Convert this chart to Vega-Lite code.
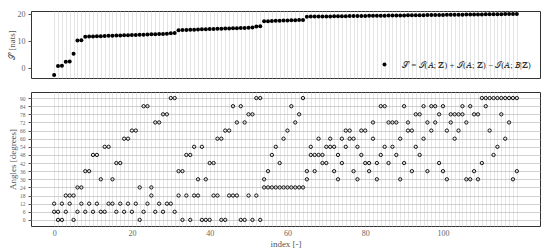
{
  "$schema": "https://vega.github.io/schema/vega-lite/v6.json",
  "background": "white",
  "padding": {"left": 6, "top": 9, "right": 11, "bottom": 4},
  "spacing": 12,
  "resolve": {"legend": {"color": "independent"}, "scale": {"color": "independent"}},
  "config": {
    "font": "Liberation Serif",
    "view": {"stroke": "#333", "strokeWidth": 1},
    "axis": {"labelFont": "Liberation Serif", "titleFont": "Liberation Serif", "labelColor": "#666", "titleColor": "#555", "titleFontWeight": "normal", "domain": false, "tickColor": "#555"}
  },
  "datasets": {
    "S": [
      {"i":0,"S":-2.5,"series":"𝒮 = ℐ(𝐴; 𝐙) + ℐ(𝐴; 𝐙) − ℐ(𝐴; 𝐵|𝐙)"},
      {"i":1,"S":0.8,"series":"𝒮 = ℐ(𝐴; 𝐙) + ℐ(𝐴; 𝐙) − ℐ(𝐴; 𝐵|𝐙)"},
      {"i":2,"S":0.9,"series":"𝒮 = ℐ(𝐴; 𝐙) + ℐ(𝐴; 𝐙) − ℐ(𝐴; 𝐵|𝐙)"},
      {"i":3,"S":2.4,"series":"𝒮 = ℐ(𝐴; 𝐙) + ℐ(𝐴; 𝐙) − ℐ(𝐴; 𝐵|𝐙)"},
      {"i":4,"S":2.5,"series":"𝒮 = ℐ(𝐴; 𝐙) + ℐ(𝐴; 𝐙) − ℐ(𝐴; 𝐵|𝐙)"},
      {"i":5,"S":5.4,"series":"𝒮 = ℐ(𝐴; 𝐙) + ℐ(𝐴; 𝐙) − ℐ(𝐴; 𝐵|𝐙)"},
      {"i":6,"S":10.3,"series":"𝒮 = ℐ(𝐴; 𝐙) + ℐ(𝐴; 𝐙) − ℐ(𝐴; 𝐵|𝐙)"},
      {"i":7,"S":10.4,"series":"𝒮 = ℐ(𝐴; 𝐙) + ℐ(𝐴; 𝐙) − ℐ(𝐴; 𝐵|𝐙)"},
      {"i":8,"S":11.7,"series":"𝒮 = ℐ(𝐴; 𝐙) + ℐ(𝐴; 𝐙) − ℐ(𝐴; 𝐵|𝐙)"},
      {"i":9,"S":11.75,"series":"𝒮 = ℐ(𝐴; 𝐙) + ℐ(𝐴; 𝐙) − ℐ(𝐴; 𝐵|𝐙)"},
      {"i":10,"S":11.8,"series":"𝒮 = ℐ(𝐴; 𝐙) + ℐ(𝐴; 𝐙) − ℐ(𝐴; 𝐵|𝐙)"},
      {"i":11,"S":11.85,"series":"𝒮 = ℐ(𝐴; 𝐙) + ℐ(𝐴; 𝐙) − ℐ(𝐴; 𝐵|𝐙)"},
      {"i":12,"S":11.9,"series":"𝒮 = ℐ(𝐴; 𝐙) + ℐ(𝐴; 𝐙) − ℐ(𝐴; 𝐵|𝐙)"},
      {"i":13,"S":11.95,"series":"𝒮 = ℐ(𝐴; 𝐙) + ℐ(𝐴; 𝐙) − ℐ(𝐴; 𝐵|𝐙)"},
      {"i":14,"S":12.0,"series":"𝒮 = ℐ(𝐴; 𝐙) + ℐ(𝐴; 𝐙) − ℐ(𝐴; 𝐵|𝐙)"},
      {"i":15,"S":12.05,"series":"𝒮 = ℐ(𝐴; 𝐙) + ℐ(𝐴; 𝐙) − ℐ(𝐴; 𝐵|𝐙)"},
      {"i":16,"S":12.1,"series":"𝒮 = ℐ(𝐴; 𝐙) + ℐ(𝐴; 𝐙) − ℐ(𝐴; 𝐵|𝐙)"},
      {"i":17,"S":12.15,"series":"𝒮 = ℐ(𝐴; 𝐙) + ℐ(𝐴; 𝐙) − ℐ(𝐴; 𝐵|𝐙)"},
      {"i":18,"S":12.2,"series":"𝒮 = ℐ(𝐴; 𝐙) + ℐ(𝐴; 𝐙) − ℐ(𝐴; 𝐵|𝐙)"},
      {"i":19,"S":12.25,"series":"𝒮 = ℐ(𝐴; 𝐙) + ℐ(𝐴; 𝐙) − ℐ(𝐴; 𝐵|𝐙)"},
      {"i":20,"S":12.3,"series":"𝒮 = ℐ(𝐴; 𝐙) + ℐ(𝐴; 𝐙) − ℐ(𝐴; 𝐵|𝐙)"},
      {"i":21,"S":12.35,"series":"𝒮 = ℐ(𝐴; 𝐙) + ℐ(𝐴; 𝐙) − ℐ(𝐴; 𝐵|𝐙)"},
      {"i":22,"S":12.4,"series":"𝒮 = ℐ(𝐴; 𝐙) + ℐ(𝐴; 𝐙) − ℐ(𝐴; 𝐵|𝐙)"},
      {"i":23,"S":12.45,"series":"𝒮 = ℐ(𝐴; 𝐙) + ℐ(𝐴; 𝐙) − ℐ(𝐴; 𝐵|𝐙)"},
      {"i":24,"S":12.5,"series":"𝒮 = ℐ(𝐴; 𝐙) + ℐ(𝐴; 𝐙) − ℐ(𝐴; 𝐵|𝐙)"},
      {"i":25,"S":12.55,"series":"𝒮 = ℐ(𝐴; 𝐙) + ℐ(𝐴; 𝐙) − ℐ(𝐴; 𝐵|𝐙)"},
      {"i":26,"S":12.6,"series":"𝒮 = ℐ(𝐴; 𝐙) + ℐ(𝐴; 𝐙) − ℐ(𝐴; 𝐵|𝐙)"},
      {"i":27,"S":12.65,"series":"𝒮 = ℐ(𝐴; 𝐙) + ℐ(𝐴; 𝐙) − ℐ(𝐴; 𝐵|𝐙)"},
      {"i":28,"S":12.7,"series":"𝒮 = ℐ(𝐴; 𝐙) + ℐ(𝐴; 𝐙) − ℐ(𝐴; 𝐵|𝐙)"},
      {"i":29,"S":12.75,"series":"𝒮 = ℐ(𝐴; 𝐙) + ℐ(𝐴; 𝐙) − ℐ(𝐴; 𝐵|𝐙)"},
      {"i":30,"S":13.0,"series":"𝒮 = ℐ(𝐴; 𝐙) + ℐ(𝐴; 𝐙) − ℐ(𝐴; 𝐵|𝐙)"},
      {"i":31,"S":13.1,"series":"𝒮 = ℐ(𝐴; 𝐙) + ℐ(𝐴; 𝐙) − ℐ(𝐴; 𝐵|𝐙)"},
      {"i":32,"S":14.1,"series":"𝒮 = ℐ(𝐴; 𝐙) + ℐ(𝐴; 𝐙) − ℐ(𝐴; 𝐵|𝐙)"},
      {"i":33,"S":14.15,"series":"𝒮 = ℐ(𝐴; 𝐙) + ℐ(𝐴; 𝐙) − ℐ(𝐴; 𝐵|𝐙)"},
      {"i":34,"S":14.2,"series":"𝒮 = ℐ(𝐴; 𝐙) + ℐ(𝐴; 𝐙) − ℐ(𝐴; 𝐵|𝐙)"},
      {"i":35,"S":14.25,"series":"𝒮 = ℐ(𝐴; 𝐙) + ℐ(𝐴; 𝐙) − ℐ(𝐴; 𝐵|𝐙)"},
      {"i":36,"S":14.3,"series":"𝒮 = ℐ(𝐴; 𝐙) + ℐ(𝐴; 𝐙) − ℐ(𝐴; 𝐵|𝐙)"},
      {"i":37,"S":14.35,"series":"𝒮 = ℐ(𝐴; 𝐙) + ℐ(𝐴; 𝐙) − ℐ(𝐴; 𝐵|𝐙)"},
      {"i":38,"S":14.4,"series":"𝒮 = ℐ(𝐴; 𝐙) + ℐ(𝐴; 𝐙) − ℐ(𝐴; 𝐵|𝐙)"},
      {"i":39,"S":14.45,"series":"𝒮 = ℐ(𝐴; 𝐙) + ℐ(𝐴; 𝐙) − ℐ(𝐴; 𝐵|𝐙)"},
      {"i":40,"S":14.5,"series":"𝒮 = ℐ(𝐴; 𝐙) + ℐ(𝐴; 𝐙) − ℐ(𝐴; 𝐵|𝐙)"},
      {"i":41,"S":14.55,"series":"𝒮 = ℐ(𝐴; 𝐙) + ℐ(𝐴; 𝐙) − ℐ(𝐴; 𝐵|𝐙)"},
      {"i":42,"S":14.6,"series":"𝒮 = ℐ(𝐴; 𝐙) + ℐ(𝐴; 𝐙) − ℐ(𝐴; 𝐵|𝐙)"},
      {"i":43,"S":14.65,"series":"𝒮 = ℐ(𝐴; 𝐙) + ℐ(𝐴; 𝐙) − ℐ(𝐴; 𝐵|𝐙)"},
      {"i":44,"S":14.7,"series":"𝒮 = ℐ(𝐴; 𝐙) + ℐ(𝐴; 𝐙) − ℐ(𝐴; 𝐵|𝐙)"},
      {"i":45,"S":14.75,"series":"𝒮 = ℐ(𝐴; 𝐙) + ℐ(𝐴; 𝐙) − ℐ(𝐴; 𝐵|𝐙)"},
      {"i":46,"S":14.8,"series":"𝒮 = ℐ(𝐴; 𝐙) + ℐ(𝐴; 𝐙) − ℐ(𝐴; 𝐵|𝐙)"},
      {"i":47,"S":14.85,"series":"𝒮 = ℐ(𝐴; 𝐙) + ℐ(𝐴; 𝐙) − ℐ(𝐴; 𝐵|𝐙)"},
      {"i":48,"S":14.9,"series":"𝒮 = ℐ(𝐴; 𝐙) + ℐ(𝐴; 𝐙) − ℐ(𝐴; 𝐵|𝐙)"},
      {"i":49,"S":14.95,"series":"𝒮 = ℐ(𝐴; 𝐙) + ℐ(𝐴; 𝐙) − ℐ(𝐴; 𝐵|𝐙)"},
      {"i":50,"S":15.0,"series":"𝒮 = ℐ(𝐴; 𝐙) + ℐ(𝐴; 𝐙) − ℐ(𝐴; 𝐵|𝐙)"},
      {"i":51,"S":15.05,"series":"𝒮 = ℐ(𝐴; 𝐙) + ℐ(𝐴; 𝐙) − ℐ(𝐴; 𝐵|𝐙)"},
      {"i":52,"S":15.5,"series":"𝒮 = ℐ(𝐴; 𝐙) + ℐ(𝐴; 𝐙) − ℐ(𝐴; 𝐵|𝐙)"},
      {"i":53,"S":15.6,"series":"𝒮 = ℐ(𝐴; 𝐙) + ℐ(𝐴; 𝐙) − ℐ(𝐴; 𝐵|𝐙)"},
      {"i":54,"S":17.4,"series":"𝒮 = ℐ(𝐴; 𝐙) + ℐ(𝐴; 𝐙) − ℐ(𝐴; 𝐵|𝐙)"},
      {"i":55,"S":17.45,"series":"𝒮 = ℐ(𝐴; 𝐙) + ℐ(𝐴; 𝐙) − ℐ(𝐴; 𝐵|𝐙)"},
      {"i":56,"S":17.5,"series":"𝒮 = ℐ(𝐴; 𝐙) + ℐ(𝐴; 𝐙) − ℐ(𝐴; 𝐵|𝐙)"},
      {"i":57,"S":17.55,"series":"𝒮 = ℐ(𝐴; 𝐙) + ℐ(𝐴; 𝐙) − ℐ(𝐴; 𝐵|𝐙)"},
      {"i":58,"S":17.6,"series":"𝒮 = ℐ(𝐴; 𝐙) + ℐ(𝐴; 𝐙) − ℐ(𝐴; 𝐵|𝐙)"},
      {"i":59,"S":17.65,"series":"𝒮 = ℐ(𝐴; 𝐙) + ℐ(𝐴; 𝐙) − ℐ(𝐴; 𝐵|𝐙)"},
      {"i":60,"S":17.7,"series":"𝒮 = ℐ(𝐴; 𝐙) + ℐ(𝐴; 𝐙) − ℐ(𝐴; 𝐵|𝐙)"},
      {"i":61,"S":17.75,"series":"𝒮 = ℐ(𝐴; 𝐙) + ℐ(𝐴; 𝐙) − ℐ(𝐴; 𝐵|𝐙)"},
      {"i":62,"S":17.8,"series":"𝒮 = ℐ(𝐴; 𝐙) + ℐ(𝐴; 𝐙) − ℐ(𝐴; 𝐵|𝐙)"},
      {"i":63,"S":17.85,"series":"𝒮 = ℐ(𝐴; 𝐙) + ℐ(𝐴; 𝐙) − ℐ(𝐴; 𝐵|𝐙)"},
      {"i":64,"S":17.9,"series":"𝒮 = ℐ(𝐴; 𝐙) + ℐ(𝐴; 𝐙) − ℐ(𝐴; 𝐵|𝐙)"},
      {"i":65,"S":19.10,"series":"𝒮 = ℐ(𝐴; 𝐙) + ℐ(𝐴; 𝐙) − ℐ(𝐴; 𝐵|𝐙)"},
      {"i":66,"S":19.12,"series":"𝒮 = ℐ(𝐴; 𝐙) + ℐ(𝐴; 𝐙) − ℐ(𝐴; 𝐵|𝐙)"},
      {"i":67,"S":19.14,"series":"𝒮 = ℐ(𝐴; 𝐙) + ℐ(𝐴; 𝐙) − ℐ(𝐴; 𝐵|𝐙)"},
      {"i":68,"S":19.16,"series":"𝒮 = ℐ(𝐴; 𝐙) + ℐ(𝐴; 𝐙) − ℐ(𝐴; 𝐵|𝐙)"},
      {"i":69,"S":19.18,"series":"𝒮 = ℐ(𝐴; 𝐙) + ℐ(𝐴; 𝐙) − ℐ(𝐴; 𝐵|𝐙)"},
      {"i":70,"S":19.20,"series":"𝒮 = ℐ(𝐴; 𝐙) + ℐ(𝐴; 𝐙) − ℐ(𝐴; 𝐵|𝐙)"},
      {"i":71,"S":19.21,"series":"𝒮 = ℐ(𝐴; 𝐙) + ℐ(𝐴; 𝐙) − ℐ(𝐴; 𝐵|𝐙)"},
      {"i":72,"S":19.23,"series":"𝒮 = ℐ(𝐴; 𝐙) + ℐ(𝐴; 𝐙) − ℐ(𝐴; 𝐵|𝐙)"},
      {"i":73,"S":19.25,"series":"𝒮 = ℐ(𝐴; 𝐙) + ℐ(𝐴; 𝐙) − ℐ(𝐴; 𝐵|𝐙)"},
      {"i":74,"S":19.27,"series":"𝒮 = ℐ(𝐴; 𝐙) + ℐ(𝐴; 𝐙) − ℐ(𝐴; 𝐵|𝐙)"},
      {"i":75,"S":19.29,"series":"𝒮 = ℐ(𝐴; 𝐙) + ℐ(𝐴; 𝐙) − ℐ(𝐴; 𝐵|𝐙)"},
      {"i":76,"S":19.31,"series":"𝒮 = ℐ(𝐴; 𝐙) + ℐ(𝐴; 𝐙) − ℐ(𝐴; 𝐵|𝐙)"},
      {"i":77,"S":19.33,"series":"𝒮 = ℐ(𝐴; 𝐙) + ℐ(𝐴; 𝐙) − ℐ(𝐴; 𝐵|𝐙)"},
      {"i":78,"S":19.35,"series":"𝒮 = ℐ(𝐴; 𝐙) + ℐ(𝐴; 𝐙) − ℐ(𝐴; 𝐵|𝐙)"},
      {"i":79,"S":19.37,"series":"𝒮 = ℐ(𝐴; 𝐙) + ℐ(𝐴; 𝐙) − ℐ(𝐴; 𝐵|𝐙)"},
      {"i":80,"S":19.38,"series":"𝒮 = ℐ(𝐴; 𝐙) + ℐ(𝐴; 𝐙) − ℐ(𝐴; 𝐵|𝐙)"},
      {"i":81,"S":19.40,"series":"𝒮 = ℐ(𝐴; 𝐙) + ℐ(𝐴; 𝐙) − ℐ(𝐴; 𝐵|𝐙)"},
      {"i":82,"S":19.42,"series":"𝒮 = ℐ(𝐴; 𝐙) + ℐ(𝐴; 𝐙) − ℐ(𝐴; 𝐵|𝐙)"},
      {"i":83,"S":19.44,"series":"𝒮 = ℐ(𝐴; 𝐙) + ℐ(𝐴; 𝐙) − ℐ(𝐴; 𝐵|𝐙)"},
      {"i":84,"S":19.46,"series":"𝒮 = ℐ(𝐴; 𝐙) + ℐ(𝐴; 𝐙) − ℐ(𝐴; 𝐵|𝐙)"},
      {"i":85,"S":19.48,"series":"𝒮 = ℐ(𝐴; 𝐙) + ℐ(𝐴; 𝐙) − ℐ(𝐴; 𝐵|𝐙)"},
      {"i":86,"S":19.50,"series":"𝒮 = ℐ(𝐴; 𝐙) + ℐ(𝐴; 𝐙) − ℐ(𝐴; 𝐵|𝐙)"},
      {"i":87,"S":19.52,"series":"𝒮 = ℐ(𝐴; 𝐙) + ℐ(𝐴; 𝐙) − ℐ(𝐴; 𝐵|𝐙)"},
      {"i":88,"S":19.53,"series":"𝒮 = ℐ(𝐴; 𝐙) + ℐ(𝐴; 𝐙) − ℐ(𝐴; 𝐵|𝐙)"},
      {"i":89,"S":19.55,"series":"𝒮 = ℐ(𝐴; 𝐙) + ℐ(𝐴; 𝐙) − ℐ(𝐴; 𝐵|𝐙)"},
      {"i":90,"S":19.57,"series":"𝒮 = ℐ(𝐴; 𝐙) + ℐ(𝐴; 𝐙) − ℐ(𝐴; 𝐵|𝐙)"},
      {"i":91,"S":19.59,"series":"𝒮 = ℐ(𝐴; 𝐙) + ℐ(𝐴; 𝐙) − ℐ(𝐴; 𝐵|𝐙)"},
      {"i":92,"S":19.61,"series":"𝒮 = ℐ(𝐴; 𝐙) + ℐ(𝐴; 𝐙) − ℐ(𝐴; 𝐵|𝐙)"},
      {"i":93,"S":19.63,"series":"𝒮 = ℐ(𝐴; 𝐙) + ℐ(𝐴; 𝐙) − ℐ(𝐴; 𝐵|𝐙)"},
      {"i":94,"S":19.65,"series":"𝒮 = ℐ(𝐴; 𝐙) + ℐ(𝐴; 𝐙) − ℐ(𝐴; 𝐵|𝐙)"},
      {"i":95,"S":19.67,"series":"𝒮 = ℐ(𝐴; 𝐙) + ℐ(𝐴; 𝐙) − ℐ(𝐴; 𝐵|𝐙)"},
      {"i":96,"S":19.68,"series":"𝒮 = ℐ(𝐴; 𝐙) + ℐ(𝐴; 𝐙) − ℐ(𝐴; 𝐵|𝐙)"},
      {"i":97,"S":19.70,"series":"𝒮 = ℐ(𝐴; 𝐙) + ℐ(𝐴; 𝐙) − ℐ(𝐴; 𝐵|𝐙)"},
      {"i":98,"S":19.72,"series":"𝒮 = ℐ(𝐴; 𝐙) + ℐ(𝐴; 𝐙) − ℐ(𝐴; 𝐵|𝐙)"},
      {"i":99,"S":19.74,"series":"𝒮 = ℐ(𝐴; 𝐙) + ℐ(𝐴; 𝐙) − ℐ(𝐴; 𝐵|𝐙)"},
      {"i":100,"S":19.76,"series":"𝒮 = ℐ(𝐴; 𝐙) + ℐ(𝐴; 𝐙) − ℐ(𝐴; 𝐵|𝐙)"},
      {"i":101,"S":19.78,"series":"𝒮 = ℐ(𝐴; 𝐙) + ℐ(𝐴; 𝐙) − ℐ(𝐴; 𝐵|𝐙)"},
      {"i":102,"S":19.80,"series":"𝒮 = ℐ(𝐴; 𝐙) + ℐ(𝐴; 𝐙) − ℐ(𝐴; 𝐵|𝐙)"},
      {"i":103,"S":19.82,"series":"𝒮 = ℐ(𝐴; 𝐙) + ℐ(𝐴; 𝐙) − ℐ(𝐴; 𝐵|𝐙)"},
      {"i":104,"S":19.83,"series":"𝒮 = ℐ(𝐴; 𝐙) + ℐ(𝐴; 𝐙) − ℐ(𝐴; 𝐵|𝐙)"},
      {"i":105,"S":19.85,"series":"𝒮 = ℐ(𝐴; 𝐙) + ℐ(𝐴; 𝐙) − ℐ(𝐴; 𝐵|𝐙)"},
      {"i":106,"S":19.87,"series":"𝒮 = ℐ(𝐴; 𝐙) + ℐ(𝐴; 𝐙) − ℐ(𝐴; 𝐵|𝐙)"},
      {"i":107,"S":19.89,"series":"𝒮 = ℐ(𝐴; 𝐙) + ℐ(𝐴; 𝐙) − ℐ(𝐴; 𝐵|𝐙)"},
      {"i":108,"S":19.91,"series":"𝒮 = ℐ(𝐴; 𝐙) + ℐ(𝐴; 𝐙) − ℐ(𝐴; 𝐵|𝐙)"},
      {"i":109,"S":19.93,"series":"𝒮 = ℐ(𝐴; 𝐙) + ℐ(𝐴; 𝐙) − ℐ(𝐴; 𝐵|𝐙)"},
      {"i":110,"S":19.95,"series":"𝒮 = ℐ(𝐴; 𝐙) + ℐ(𝐴; 𝐙) − ℐ(𝐴; 𝐵|𝐙)"},
      {"i":111,"S":19.97,"series":"𝒮 = ℐ(𝐴; 𝐙) + ℐ(𝐴; 𝐙) − ℐ(𝐴; 𝐵|𝐙)"},
      {"i":112,"S":19.98,"series":"𝒮 = ℐ(𝐴; 𝐙) + ℐ(𝐴; 𝐙) − ℐ(𝐴; 𝐵|𝐙)"},
      {"i":113,"S":20.00,"series":"𝒮 = ℐ(𝐴; 𝐙) + ℐ(𝐴; 𝐙) − ℐ(𝐴; 𝐵|𝐙)"},
      {"i":114,"S":20.02,"series":"𝒮 = ℐ(𝐴; 𝐙) + ℐ(𝐴; 𝐙) − ℐ(𝐴; 𝐵|𝐙)"},
      {"i":115,"S":20.04,"series":"𝒮 = ℐ(𝐴; 𝐙) + ℐ(𝐴; 𝐙) − ℐ(𝐴; 𝐵|𝐙)"},
      {"i":116,"S":20.06,"series":"𝒮 = ℐ(𝐴; 𝐙) + ℐ(𝐴; 𝐙) − ℐ(𝐴; 𝐵|𝐙)"},
      {"i":117,"S":20.08,"series":"𝒮 = ℐ(𝐴; 𝐙) + ℐ(𝐴; 𝐙) − ℐ(𝐴; 𝐵|𝐙)"},
      {"i":118,"S":20.10,"series":"𝒮 = ℐ(𝐴; 𝐙) + ℐ(𝐴; 𝐙) − ℐ(𝐴; 𝐵|𝐙)"},
      {"i":119,"S":20.12,"series":"𝒮 = ℐ(𝐴; 𝐙) + ℐ(𝐴; 𝐙) − ℐ(𝐴; 𝐵|𝐙)"}
    ],
    "angles": [
      {"i":0,"a":12},{"i":0,"a":6},{"i":1,"a":6},{"i":1,"a":0},{"i":2,"a":12},{"i":2,"a":0},
      {"i":3,"a":18},{"i":3,"a":6},{"i":4,"a":18},{"i":4,"a":12},{"i":5,"a":18},{"i":5,"a":0},
      {"i":6,"a":24},{"i":6,"a":6},{"i":7,"a":24},{"i":7,"a":12},{"i":8,"a":36},{"i":8,"a":6},
      {"i":9,"a":36},{"i":9,"a":12},{"i":10,"a":48},{"i":10,"a":6},{"i":11,"a":48},{"i":11,"a":12},
      {"i":12,"a":30},{"i":12,"a":6},{"i":13,"a":54},{"i":13,"a":6},{"i":14,"a":54},{"i":14,"a":12},
      {"i":15,"a":30},{"i":15,"a":12},{"i":16,"a":42},{"i":16,"a":6},{"i":17,"a":42},{"i":17,"a":12},
      {"i":18,"a":60},{"i":18,"a":6},{"i":19,"a":60},{"i":19,"a":12},{"i":20,"a":66},{"i":20,"a":6},
      {"i":21,"a":66},{"i":21,"a":12},{"i":22,"a":24},{"i":22,"a":0},{"i":23,"a":84},{"i":23,"a":6},
      {"i":24,"a":84},{"i":24,"a":12},{"i":25,"a":24},{"i":25,"a":18},{"i":26,"a":72},{"i":26,"a":6},
      {"i":27,"a":72},{"i":27,"a":12},{"i":28,"a":78},{"i":28,"a":6},{"i":29,"a":78},{"i":29,"a":12},
      {"i":30,"a":90},{"i":30,"a":12},{"i":31,"a":90},{"i":31,"a":6},{"i":32,"a":36},{"i":32,"a":18},
      {"i":33,"a":36},{"i":33,"a":0},{"i":34,"a":48},{"i":34,"a":18},{"i":35,"a":48},{"i":35,"a":0},
      {"i":36,"a":54},{"i":36,"a":18},{"i":37,"a":30},{"i":37,"a":18},{"i":38,"a":54},{"i":38,"a":0},
      {"i":39,"a":30},{"i":39,"a":0},{"i":40,"a":42},{"i":40,"a":0},{"i":41,"a":42},{"i":41,"a":18},
      {"i":42,"a":60},{"i":42,"a":18},{"i":43,"a":60},{"i":43,"a":0},{"i":44,"a":66},{"i":44,"a":0},
      {"i":45,"a":66},{"i":45,"a":18},{"i":46,"a":84},{"i":46,"a":18},{"i":47,"a":72},{"i":47,"a":18},
      {"i":48,"a":84},{"i":48,"a":0},{"i":49,"a":72},{"i":49,"a":0},{"i":50,"a":78},{"i":50,"a":18},
      {"i":51,"a":78},{"i":51,"a":0},{"i":52,"a":90},{"i":52,"a":18},{"i":53,"a":90},{"i":53,"a":0},
      {"i":54,"a":30},{"i":54,"a":24},{"i":55,"a":36},{"i":55,"a":24},{"i":56,"a":48},{"i":56,"a":24},
      {"i":57,"a":54},{"i":57,"a":24},{"i":58,"a":42},{"i":58,"a":24},{"i":59,"a":60},{"i":59,"a":24},
      {"i":60,"a":66},{"i":60,"a":24},{"i":61,"a":84},{"i":61,"a":24},{"i":62,"a":72},{"i":62,"a":24},
      {"i":63,"a":78},{"i":63,"a":24},{"i":64,"a":90},{"i":64,"a":24},{"i":65,"a":36},{"i":65,"a":30},
      {"i":66,"a":54},{"i":66,"a":48},{"i":67,"a":48},{"i":67,"a":36},{"i":68,"a":60},{"i":68,"a":48},
      {"i":69,"a":48},{"i":69,"a":42},{"i":70,"a":54},{"i":70,"a":42},{"i":71,"a":60},{"i":71,"a":54},
      {"i":72,"a":54},{"i":72,"a":36},{"i":73,"a":48},{"i":73,"a":30},{"i":74,"a":60},{"i":74,"a":42},
      {"i":75,"a":66},{"i":75,"a":54},{"i":76,"a":66},{"i":76,"a":60},{"i":77,"a":60},{"i":77,"a":36},
      {"i":78,"a":54},{"i":78,"a":30},{"i":79,"a":66},{"i":79,"a":48},{"i":80,"a":66},{"i":80,"a":42},
      {"i":81,"a":42},{"i":81,"a":36},{"i":82,"a":72},{"i":82,"a":60},{"i":83,"a":42},{"i":83,"a":30},
      {"i":84,"a":84},{"i":84,"a":48},{"i":85,"a":84},{"i":85,"a":54},{"i":86,"a":72},{"i":86,"a":42},
      {"i":87,"a":72},{"i":87,"a":54},{"i":88,"a":72},{"i":88,"a":48},{"i":89,"a":60},{"i":89,"a":30},
      {"i":90,"a":84},{"i":90,"a":42},{"i":91,"a":72},{"i":91,"a":66},{"i":92,"a":66},{"i":92,"a":36},
      {"i":93,"a":78},{"i":93,"a":54},{"i":94,"a":78},{"i":94,"a":48},{"i":95,"a":84},{"i":95,"a":60},
      {"i":96,"a":72},{"i":96,"a":36},{"i":97,"a":84},{"i":97,"a":66},{"i":98,"a":84},{"i":98,"a":72},
      {"i":99,"a":78},{"i":99,"a":42},{"i":100,"a":84},{"i":100,"a":36},{"i":101,"a":66},{"i":101,"a":30},
      {"i":102,"a":78},{"i":102,"a":72},{"i":103,"a":78},{"i":103,"a":60},{"i":104,"a":78},{"i":104,"a":66},
      {"i":105,"a":84},{"i":105,"a":78},{"i":106,"a":72},{"i":106,"a":30},{"i":107,"a":84},{"i":107,"a":30},
      {"i":108,"a":78},{"i":108,"a":36},{"i":109,"a":78},{"i":109,"a":30},{"i":110,"a":90},{"i":110,"a":42},
      {"i":111,"a":90},{"i":111,"a":84},{"i":112,"a":90},{"i":112,"a":66},{"i":113,"a":90},{"i":113,"a":48},
      {"i":114,"a":90},{"i":114,"a":54},{"i":115,"a":90},{"i":115,"a":78},{"i":116,"a":90},{"i":116,"a":60},
      {"i":117,"a":90},{"i":117,"a":72},{"i":118,"a":90},{"i":118,"a":30},{"i":119,"a":90},{"i":119,"a":36}
    ]
  },
  "vconcat": [
    {
      "width": 509,
      "height": 67,
      "data": {"name": "S"},
      "mark": {"type": "point", "filled": true, "size": 16, "opacity": 1, "shape": "circle"},
      "encoding": {
        "x": {
          "field": "i", "type": "quantitative",
          "scale": {"domain": [-5.95, 124.95], "nice": false, "zero": false},
          "axis": {"values": [0,1,2,3,4,5,6,7,8,9,10,11,12,13,14,15,16,17,18,19,20,21,22,23,24,25,26,27,28,29,30,31,32,33,34,35,36,37,38,39,40,41,42,43,44,45,46,47,48,49,50,51,52,53,54,55,56,57,58,59,60,61,62,63,64,65,66,67,68,69,70,71,72,73,74,75,76,77,78,79,80,81,82,83,84,85,86,87,88,89,90,91,92,93,94,95,96,97,98,99,100,101,102,103,104,105,106,107,108,109,110,111,112,113,114,115,116,117,118,119],
                   "labels": false, "ticks": false, "title": null, "grid": true, "gridColor": "#d4d4d4", "gridWidth": 0.6}
        },
        "y": {
          "field": "S", "type": "quantitative",
          "scale": {"domain": [-3.6, 21.2], "nice": false, "zero": false},
          "axis": {"values": [0, 10, 20], "grid": false, "title": "𝒮 [nats]", "titleFontSize": 9, "labelFontSize": 8, "tickSize": 3, "labelPadding": 3, "titlePadding": 1}
        },
        "color": {
          "field": "series", "type": "nominal",
          "scale": {"range": ["black"]},
          "legend": {"title": null, "orient": "bottom-right", "offset": 6, "labelFont": "Liberation Serif", "labelFontSize": 9, "labelColor": "#333", "symbolSize": 16, "symbolType": "circle", "labelOffset": 13, "padding": 2, "labelLimit": 300}
        }
      }
    },
    {
      "width": 509,
      "height": 134,
      "data": {"name": "angles"},
      "mark": {"type": "point", "filled": false, "size": 11, "stroke": "black", "strokeWidth": 0.9, "opacity": 1, "shape": "circle"},
      "encoding": {
        "x": {
          "field": "i", "type": "quantitative",
          "scale": {"domain": [-5.95, 124.95], "nice": false, "zero": false},
          "axis": {"values": [0,1,2,3,4,5,6,7,8,9,10,11,12,13,14,15,16,17,18,19,20,21,22,23,24,25,26,27,28,29,30,31,32,33,34,35,36,37,38,39,40,41,42,43,44,45,46,47,48,49,50,51,52,53,54,55,56,57,58,59,60,61,62,63,64,65,66,67,68,69,70,71,72,73,74,75,76,77,78,79,80,81,82,83,84,85,86,87,88,89,90,91,92,93,94,95,96,97,98,99,100,101,102,103,104,105,106,107,108,109,110,111,112,113,114,115,116,117,118,119],
                   "labelExpr": "datum.value % 20 === 0 ? datum.label : ''", "labelOverlap": false, "labelFontSize": 8, "labelPadding": 3,
                   "ticks": false, "title": "index [-]", "titleFontSize": 9, "titlePadding": 2, "grid": true, "gridColor": "#d4d4d4", "gridWidth": 0.6}
        },
        "y": {
          "field": "a", "type": "quantitative",
          "scale": {"domain": [-4.5, 94.5], "nice": false, "zero": false},
          "axis": {"values": [0,6,12,18,24,30,36,42,48,54,60,66,72,78,84,90], "grid": true, "gridColor": "#bdbdbd", "gridWidth": 0.7, "title": "Angles [degrees]", "titleFontSize": 9, "labelFontSize": 5.5, "tickSize": 3, "labelPadding": 3, "titlePadding": 2}
        }
      }
    }
  ]
}
